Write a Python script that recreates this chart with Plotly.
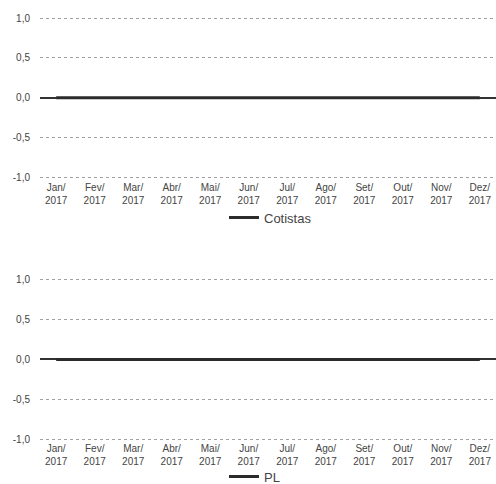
import plotly.graph_objects as go
from plotly.subplots import make_subplots

months = ["Jan/<br>2017", "Fev/<br>2017", "Mar/<br>2017", "Abr/<br>2017", "Mai/<br>2017", "Jun/<br>2017",
          "Jul/<br>2017", "Ago/<br>2017", "Set/<br>2017", "Out/<br>2017", "Nov/<br>2017", "Dez/<br>2017"]
cotistas = [0, 0, 0, 0, 0, 0, 0, 0, 0, 0, 0, 0]
pl = [0, 0, 0, 0, 0, 0, 0, 0, 0, 0, 0, 0]
y_ticks = [-1.0, -0.5, 0.0, 0.5, 1.0]
y_tick_text = ["-1,0", "-0,5", "0,0", "0,5", "1,0"]

fig = make_subplots(rows=2, cols=1)

fig.add_trace(go.Scatter(x=months, y=cotistas, mode="lines", name="Cotistas",
                         line=dict(color="#2b2b2b", width=3), legend="legend"), row=1, col=1)
fig.add_trace(go.Scatter(x=months, y=pl, mode="lines", name="PL",
                         line=dict(color="#2b2b2b", width=3), legend="legend2"), row=2, col=1)

font = dict(family="Liberation Sans, Arial, sans-serif", size=10, color="#444444")
for r in (1, 2):
    fig.update_xaxes(type="category", range=[-0.42, 11.42], showgrid=False, showline=False,
                     ticks="", tickfont=font, tickangle=0, automargin=False, row=r, col=1)
    fig.update_yaxes(range=[-1.025, 1.025], tickvals=y_ticks, ticktext=y_tick_text,
                     showgrid=True, gridcolor="#a0a0a0", griddash="dot", gridwidth=1,
                     zeroline=True, zerolinecolor="#333333", zerolinewidth=2,
                     showline=False, ticks="", tickfont=font, ticklabelstandoff=9,
                     automargin=False, row=r, col=1)

fig.update_xaxes(domain=[0.0, 1.0])
fig.update_yaxes(domain=[0.615, 1.0], row=1, col=1)
fig.update_yaxes(domain=[0.0, 0.384], row=2, col=1)

legend_common = dict(orientation="h", xanchor="left", yanchor="middle", bgcolor="rgba(0,0,0,0)",
                     font=dict(family="Liberation Sans, Arial, sans-serif", size=13, color="#444444"),
                     itemwidth=30)
fig.update_layout(
    width=496, height=492,
    margin=dict(l=40, r=0, t=16, b=44),
    paper_bgcolor="white", plot_bgcolor="white",
    showlegend=True,
    legend=dict(x=0.4035, y=0.5255, **legend_common),
    legend2=dict(x=0.4035, y=-0.0838, **legend_common),
)

fig.write_html(
    "out.html",
    config={"displayModeBar": False},
    post_script="document.body.style.margin='0';document.body.style.overflow='hidden';"
                "document.documentElement.style.overflow='hidden';",
)
